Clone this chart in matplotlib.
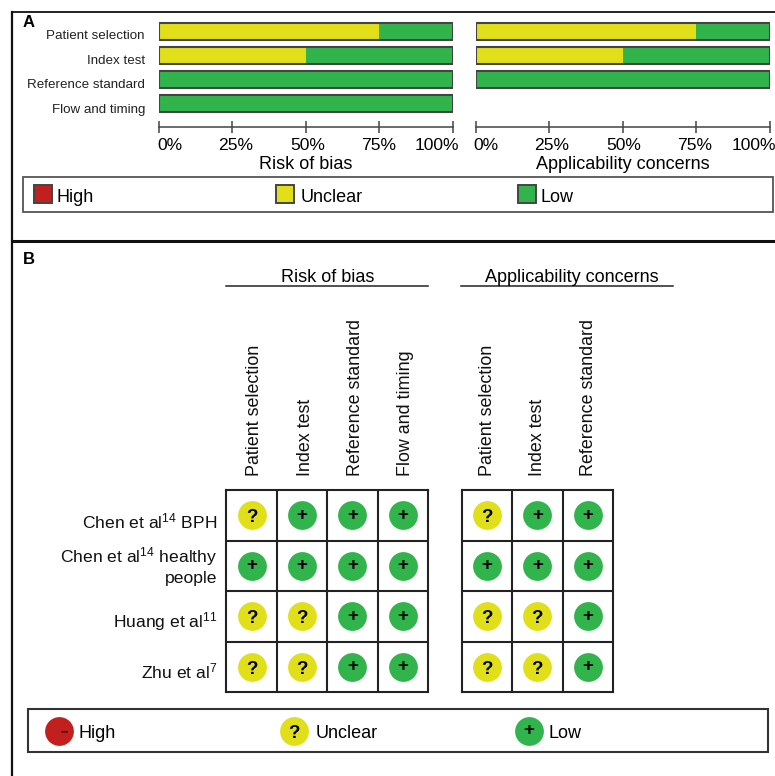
import matplotlib
matplotlib.use("Agg")
import matplotlib.pyplot as plt
from matplotlib.patches import Rectangle
from matplotlib.transforms import ScaledTranslation

plt.rcParams['font.family'] = ['Liberation Sans', 'DejaVu Sans']
plt.rcParams['mathtext.default'] = 'regular'

# panel A data
domains = ['Patient selection', 'Index test', 'Reference standard', 'Flow and timing']
domain_shift = [-5, -6, -6, -7]
rob_unclear = [75, 50, 0, 0]
rob_low = [25, 50, 100, 100]
app_unclear = [75, 50, 0]
app_low = [25, 50, 100]
pct_ticks = [0, 25, 50, 75, 100]
pct_labels = ['0%', '25%', '50%', '75%', '100%']
pct_shift = [10.5, 3, 1.5, -1, -15.5]

# panel B data
studies = ['Chen et al$^{14}$ BPH', 'Chen et al$^{14}$ healthy\npeople',
           'Huang et al$^{11}$', 'Zhu et al$^{7}$']
study_shift = [-6, 0, -5, -5]
rob_marks = [['?', '+', '+', '+'],
             ['+', '+', '+', '+'],
             ['?', '?', '+', '+'],
             ['?', '?', '+', '+']]
app_domains = domains[:3]
app_marks = [['?', '+', '+'],
             ['+', '+', '+'],
             ['?', '?', '+'],
             ['?', '?', '+']]

RED = '#C1201F'
YELLOW = '#E1DF1A'
GREEN = '#31B44B'
mark_colors = {'-': RED, '?': YELLOW, '+': GREEN}
mark_shift = {'?': -2.5, '+': 0}
W, H = 775, 776

fig = plt.figure(figsize=(W / 100, H / 100), dpi=100)


def px_axes(x0, y0, x1, y1):
    # axes placed with pixel corners, y counted from the top
    ax = fig.add_axes([x0 / W, 1 - y1 / H, (x1 - x0) / W, (y1 - y0) / H])
    ax.patch.set_alpha(0)
    return ax


# background layer for frames, headings and legends
bg = px_axes(0, 0, W, H)
bg.set_xlim(0, W)
bg.set_ylim(H, 0)
bg.axis('off')
bg.plot([12, 12], [12, H], color='#111111', lw=1.6)
bg.plot([12, W], [12, 12], color='#111111', lw=1.3)
bg.plot([12, W], [241, 241], color='#111111', lw=2.2)
bg.text(23, 22.5, 'A', fontsize=12, fontweight='bold', ha='left', va='center')
bg.text(23, 259, 'B', fontsize=12, fontweight='bold', ha='left', va='center')


def stacked(x0, x1, unclear, low, xlabel, labels=None):
    ax = px_axes(x0, 19, x1, 127)
    rows = range(len(unclear))
    ax.barh(rows, unclear, height=0.71, color=YELLOW, lw=0)
    ax.barh(rows, low, left=unclear, height=0.71, color=GREEN, lw=0)
    ax.barh(rows, [100] * len(unclear), height=0.71, fill=False, edgecolor='#444444', lw=1.5)
    ax.set_xlim(0, 100)
    ax.set_ylim(3.98, -0.52)
    for side in ['top', 'left', 'right']:
        ax.spines[side].set_visible(False)
    ax.spines['bottom'].set_color('#444444')
    ax.spines['bottom'].set_linewidth(1.1)
    ax.tick_params(axis='x', direction='inout', length=8, width=1.1, color='#444444')
    ax.set_xticks(pct_ticks)
    ax.set_xticklabels([])
    for t, lab, dx in zip(pct_ticks, pct_labels, pct_shift):
        ax.annotate(lab, xy=(t, 0), xycoords=('data', 'axes fraction'),
                    xytext=(dx, -19), textcoords='offset pixels',
                    ha='center', va='center', fontsize=12.6, annotation_clip=False)
    ax.annotate(xlabel, xy=(0.5, 0), xycoords='axes fraction', xytext=(0, -37.5),
                textcoords='offset pixels', ha='center', va='center', fontsize=13)
    ax.set_yticks([])
    if labels:
        for r, (lab, dy) in enumerate(zip(labels, domain_shift)):
            ax.annotate(lab, xy=(0, r), xycoords=('axes fraction', 'data'),
                        xytext=(-14, dy), textcoords='offset pixels', ha='right', va='center',
                        fontsize=9.6, color='#222222', annotation_clip=False)
    return ax


stacked(159, 452.5, rob_unclear, rob_low, 'Risk of bias', domains)
stacked(475.5, 769.5, app_unclear, app_low, 'Applicability concerns')


def matrix(x0, x1, marks, labels, label_dx=0, row_labels=None):
    ax = px_axes(x0, 490, x1, 692)
    nrows, ncols = len(marks), len(marks[0])
    ax.set_xlim(-0.5, ncols - 0.5)
    ax.set_ylim(nrows - 0.5, -0.5)
    for r, row in enumerate(marks):
        for c, m in enumerate(row):
            ax.scatter(c, r, s=430, color=mark_colors[m], linewidths=0, zorder=2)
            ax.annotate(m, xy=(c, r), xytext=(0, mark_shift[m]), textcoords='offset pixels',
                        ha='center', va='center', fontsize=13.5, fontweight='bold', zorder=3)
    ax.set_xticks([i + 0.5 for i in range(ncols - 1)], minor=True)
    ax.set_yticks([i + 0.5 for i in range(nrows - 1)], minor=True)
    ax.grid(which='minor', color='#222222', lw=1.5)
    ax.tick_params(which='minor', length=0)
    ax.set_axisbelow(True)
    for s in ax.spines.values():
        s.set_linewidth(1.5)
        s.set_color('#222222')
    ax.xaxis.tick_top()
    ax.set_xticks(range(ncols))
    ax.set_xticklabels(labels, rotation=90, fontsize=12.85, color='#111111', va='bottom', ha='center')
    ax.tick_params(axis='x', which='major', length=0, pad=10)
    shift = ScaledTranslation(label_dx / 100, 0, fig.dpi_scale_trans)
    for lab in ax.get_xticklabels():
        lab.set_transform(lab.get_transform() + shift)
    ax.set_yticks([])
    if row_labels:
        for r, (lab, dy) in enumerate(zip(row_labels, study_shift)):
            ax.annotate(lab, xy=(0, r), xycoords=('axes fraction', 'data'),
                        xytext=(-9, dy), textcoords='offset pixels', ha='right', va='center',
                        fontsize=12.6, color='#111111', linespacing=1.25, annotation_clip=False)
    return ax


matrix(226.5, 428, rob_marks, domains, label_dx=3, row_labels=studies)
matrix(461.5, 613, app_marks, app_domains, label_dx=0.5)

# headings above the matrices
bg.text(327.5, 277.5, 'Risk of bias', fontsize=13, ha='center', va='center')
bg.plot([226, 428], [285.5, 285.5], color='#222222', lw=1.1)
bg.text(572, 277.5, 'Applicability concerns', fontsize=13, ha='center', va='center')
bg.plot([461, 673], [285.5, 285.5], color='#222222', lw=1.1)

# legend A
bg.add_patch(Rectangle((22.5, 177), 750, 35, fill=False, edgecolor='#555555', lw=1.3))
for x, col, lab, tx in [(34, RED, 'High', 56), (276, YELLOW, 'Unclear', 300.5), (518, GREEN, 'Low', 540.5)]:
    bg.add_patch(Rectangle((x, 185), 18, 18, facecolor=col, edgecolor='#444444', lw=1.4))
    bg.text(tx, 197.5, lab, fontsize=13, ha='left', va='center')

# legend B
bg.add_patch(Rectangle((28, 708.5), 739.5, 43.5, fill=False, edgecolor='#333333', lw=1.5))
bg.scatter(58.7, 731, s=430, color=RED, linewidths=0, zorder=2)
bg.text(64.5, 733, '\u2212', fontsize=9, fontweight='bold', ha='center', va='center', zorder=3)
bg.text(79, 734, 'High', fontsize=13, ha='left', va='center')
bg.scatter(293.5, 731, s=430, color=YELLOW, linewidths=0, zorder=2)
bg.text(294, 733, '?', fontsize=13.5, fontweight='bold', ha='center', va='center', zorder=3)
bg.text(316, 734, 'Unclear', fontsize=13, ha='left', va='center')
bg.scatter(528.5, 731, s=430, color=GREEN, linewidths=0, zorder=2)
bg.text(529, 730, '+', fontsize=13.5, fontweight='bold', ha='center', va='center', zorder=3)
bg.text(548, 734, 'Low', fontsize=13, ha='left', va='center')

fig.savefig('out.png', dpi=100)
